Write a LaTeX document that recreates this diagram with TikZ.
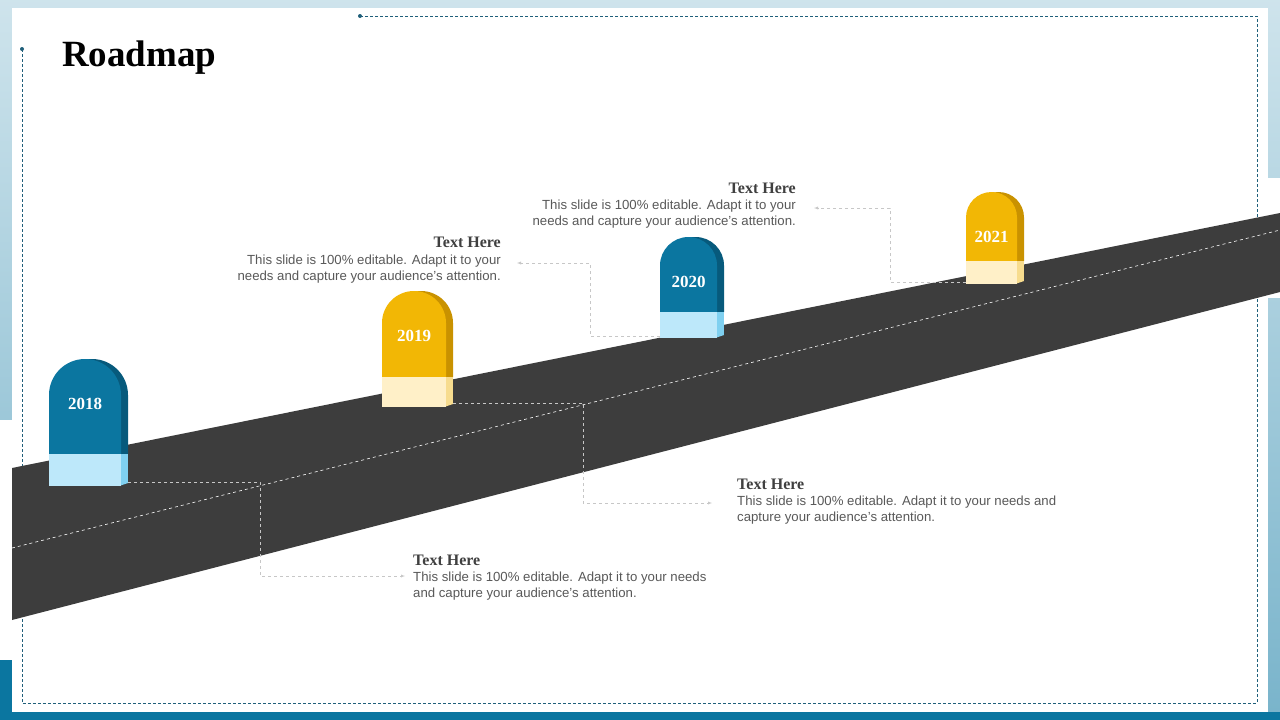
\documentclass[tikz,border=0pt]{standalone}
\usepackage{fontspec}
\setmainfont{Liberation Serif}
\setsansfont{Liberation Sans}
\usetikzlibrary{positioning}
\usetikzlibrary{calc}
\definecolor{road-grey}{HTML}{3D3D3D}
\definecolor{frame-teal}{HTML}{1F5F7A}
\definecolor{mk-blue}{HTML}{0B76A0}
\definecolor{mk-blue-side}{HTML}{075A7C}
\definecolor{mk-blue-band}{HTML}{BDE8FA}
\definecolor{mk-blue-bside}{HTML}{7FD0F0}
\definecolor{mk-gold}{HTML}{F2B705}
\definecolor{mk-gold-side}{HTML}{C99200}
\definecolor{mk-gold-band}{HTML}{FFF0C8}
\definecolor{mk-gold-bside}{HTML}{F7DC8E}
\definecolor{body-grey}{HTML}{595959}
\begin{document}
\begin{tikzpicture}[x=1pt, y=-1pt,
  year label/.style={font=\bfseries\fontsize{17}{17}\selectfont, text=white},
  head text/.style={font=\bfseries\fontsize{16}{16}\selectfont, text=black!75, inner sep=0pt},
  body text/.style={font=\sffamily\fontsize{13.2}{16}\selectfont, text=body-grey, inner sep=0pt},
  link/.style={draw=black!22, dashed, -latex}]
\useasboundingbox (0,0) rectangle (1280,720);
% slide background
\shade[top color=mk-blue!20, bottom color=mk-blue!55] (0,0) rectangle (1280,720);
\fill[white] (12,8) rectangle (1268,712);
\fill[white] (0,420) rectangle (12,660);
\fill[white] (1268,178) rectangle (1280,298);
\fill[mk-blue] (0,660) rectangle (12,720);
\fill[mk-blue] (0,712) rectangle (1280,720);
\draw[frame-teal, densely dashed, line width=0.6pt] (22,49) -- (22,703) -- (1257,703) -- (1257,16) -- (360,16);
\fill[frame-teal] (22,49) circle (2) (360,16) circle (2);
\node[anchor=west, inner sep=0pt, font=\bfseries\fontsize{37}{37}\selectfont] (title) at (62,58) {Roadmap};
% road
\fill[road-grey] (12,468) -- (1280,213) -- (1280,292) -- (12,620) -- cycle;
\draw[white, dashed, line width=0.6pt] (12,548) -- (1280,230);
% markers: x-left / x-right / top / band / bottom / colours / year
\foreach \xa/\xb/\yt/\yb/\yc/\cf/\yr in {
    49/121/359/454/486/mk-blue/2018,
    382/446/291/377/407/mk-gold/2019,
    660/717/237/312/338/mk-blue/2020,
    966/1017/192/261/284/mk-gold/2021} {
  \pgfmathsetmacro{\r}{(\xb-\xa)/2}
  \fill[\cf-side] (\xa+7,\yb) -- (\xa+7,\yt+\r) arc[start angle=180, end angle=0, x radius=\r, y radius=-\r] -- (\xb+7,\yb) -- cycle;
  \fill[\cf-bside] (\xb-2,\yb) rectangle (\xb+7,\yc-3);
  \fill[\cf-bside] (\xb-2,\yc) -- (\xb+7,\yc-3) -- (\xb-2,\yc-3) -- cycle;
  \fill[\cf] (\xa,\yb) -- (\xa,\yt+\r) arc[start angle=180, end angle=0, x radius=\r, y radius=-\r] -- (\xb,\yb) -- cycle;
  \fill[\cf-band] (\xa,\yb) rectangle (\xb,\yc);
  \node[year label] (m\yr) at ({(\xa+\xb)/2},\yt+45) {\yr};
  \coordinate (base\yr) at (\xb+7,\yc-4);
  \coordinate (front\yr) at (\xa,\yc-2);
}
% text blocks
\node[head text, anchor=north west] (h2018) at (413,555) {Text Here};
\node[body text, anchor=north west, align=left] (t2018) at (413,572) {This slide is 100\% editable. Adapt it to your needs\\and capture your audience's attention.};
\node[head text, anchor=north west] (h2019) at (737,479) {Text Here};
\node[body text, anchor=north west, align=left] (t2019) at (737,496) {This slide is 100\% editable. Adapt it to your needs and\\capture your audience's  attention.};
\node[head text, anchor=north east] (h2020) at (501,237) {Text Here};
\node[body text, anchor=north east, align=right] (t2020) at (501,255) {This slide is 100\% editable. Adapt it to your\\needs and capture your audience's attention.};
\node[head text, anchor=north east] (h2021) at (796,183) {Text Here};
\node[body text, anchor=north east, align=right] (t2021) at (796,200) {This slide is 100\% editable. Adapt it to your\\needs and capture your audience's attention.};
% connectors
\draw[link] (base2018) -| (260,576) -- ([xshift=-8pt]t2018.west |- 0,576);
\draw[link] (base2019) -| (583,503) -- ([xshift=-25pt]t2019.west |- 0,503);
\draw[link] (front2020) -| (590,263) -- ([xshift=16pt]t2020.east |- 0,263);
\draw[link] (front2021) -| (890,208) -- ([xshift=18pt]t2021.east |- 0,208);
\end{tikzpicture}
\end{document}
